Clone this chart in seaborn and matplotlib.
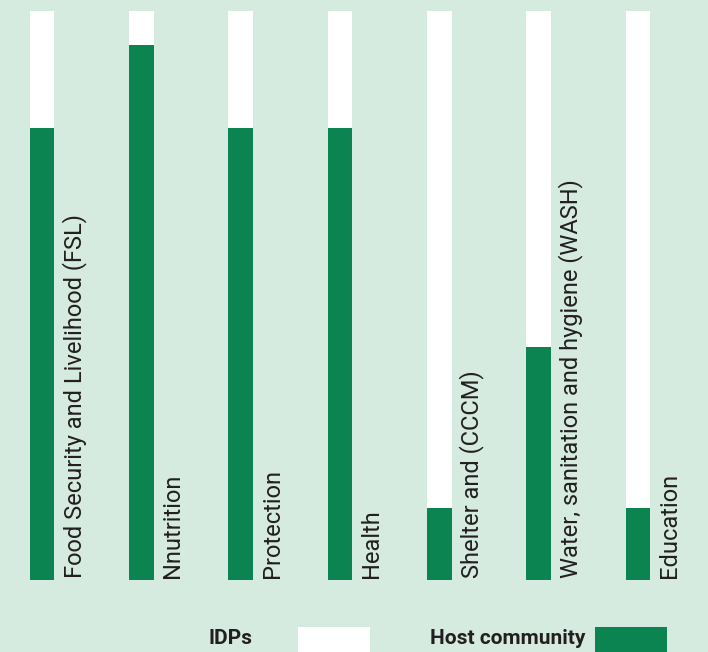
import matplotlib
matplotlib.use("Agg")
import matplotlib.pyplot as plt
import seaborn as sns
import pandas as pd
from matplotlib.patches import Rectangle

# Sectors and values (share of respondents)
sectors = [
    "Food Security and Livelihood (FSL)",
    "Nnutrition",
    "Protection",
    "Health",
    "Shelter and (CCCM)",
    "Water, sanitation and hygiene (WASH)",
    "Education",
]
idps = [100, 100, 100, 100, 100, 100, 100]
host_community = [79.5, 94, 79.5, 79.5, 12.7, 41, 12.7]

bg = "#d5ebdf"
green = "#0b8452"
text_col = "#231f20"

df = pd.DataFrame({"sector": sectors, "IDPs": idps, "Host community": host_community})

sns.set_theme(style="white")
plt.rcParams["font.family"] = ["Roboto", "DejaVu Sans"]

fig = plt.figure(figsize=(7.08, 6.52), dpi=100, facecolor=bg)
ax = fig.add_axes([0, 72 / 652, 1, 569 / 652])
ax.set_facecolor(bg)

# white background bars for IDPs, green bars for host community on top
sns.barplot(data=df, x="sector", y="IDPs", color="white", width=0.25,
            saturation=1, ax=ax, linewidth=0)
sns.barplot(data=df, x="sector", y="Host community", color=green, width=0.25,
            saturation=1, ax=ax, linewidth=0)

ax.set_ylim(0, 100)
ax.set_xlim(-0.423, 6.705)
ax.set_xticks([])
ax.set_yticks([])
ax.set_xlabel("")
ax.set_ylabel("")
for s in ax.spines.values():
    s.set_visible(False)

# rotated labels next to each bar
for i, name in enumerate(sectors):
    ax.text(i + 0.2, 0.3, name, rotation=90, ha="left", va="bottom",
            fontsize=17, color=text_col)

# legend at the bottom
fig.text(252 / 708, 1 - 639 / 652, "IDPs", ha="right", va="center",
         fontsize=15, fontweight="bold", color=text_col)
fig.patches.append(Rectangle((298 / 708, 0), 72 / 708, 25 / 652,
                             transform=fig.transFigure, facecolor="white",
                             edgecolor="none"))
fig.text(585 / 708, 1 - 639 / 652, "Host community", ha="right", va="center",
         fontsize=15, fontweight="bold", color=text_col)
fig.patches.append(Rectangle((595 / 708, 0), 72 / 708, 25 / 652,
                             transform=fig.transFigure, facecolor=green,
                             edgecolor="none"))

fig.savefig("out.png", dpi=100, facecolor=bg)
